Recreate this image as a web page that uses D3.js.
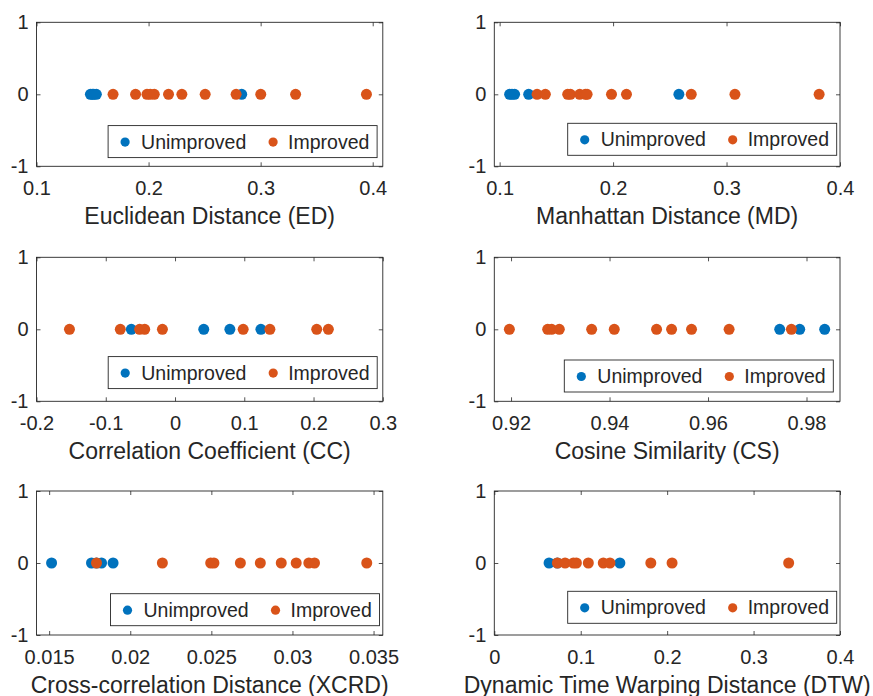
<!DOCTYPE html>
<html>
<head>
<meta charset="utf-8">
<script src="https://cdn.jsdelivr.net/npm/d3@7"></script>
<style>
  body { margin: 0; background: #fff; }
  svg { display: block; }
  text { font-family: "Liberation Sans", Arial, Helvetica, sans-serif; fill: #262626; }
</style>
</head>
<body>
<svg id="chart" width="873" height="696"></svg>
<script>
// ---- data -------------------------------------------------------------
const seriesNames = ["Unimproved", "Improved"];

const axisTitles = [
  "Euclidean Distance (ED)",
  "Manhattan Distance (MD)",
  "Correlation Coefficient (CC)",
  "Cosine Similarity (CS)",
  "Cross-correlation Distance (XCRD)",
  "Dynamic Time Warping Distance (DTW)"
];

const xLimits = [
  [0.1, 0.409],
  [0.0953, 0.4],
  [-0.2, 0.3],
  [0.9166, 0.9868],
  [0.01422, 0.03557],
  [0, 0.4]
];

const xTickValues = [
  [0.1, 0.2, 0.3, 0.4],
  [0.1, 0.2, 0.3, 0.4],
  [-0.2, -0.1, 0, 0.1, 0.2, 0.3],
  [0.92, 0.94, 0.96, 0.98],
  [0.015, 0.02, 0.025, 0.03, 0.035],
  [0, 0.1, 0.2, 0.3, 0.4]
];
const xTickLabels = [
  ["0.1", "0.2", "0.3", "0.4"],
  ["0.1", "0.2", "0.3", "0.4"],
  ["-0.2", "-0.1", "0", "0.1", "0.2", "0.3"],
  ["0.92", "0.94", "0.96", "0.98"],
  ["0.015", "0.02", "0.025", "0.03", "0.035"],
  ["0", "0.1", "0.2", "0.3", "0.4"]
];

const yTickValues = [-1, 0, 1];
const yTickLabels = ["-1", "0", "1"];

const unimprovedED = [0.1481, 0.1498, 0.1511, 0.1534, 0.2831];
const improvedED   = [0.1683, 0.1884, 0.1986, 0.2015, 0.2051, 0.2178, 0.2297, 0.2505, 0.2781, 0.3001, 0.3312, 0.3944];

const unimprovedMD = [0.1088, 0.1109, 0.1132, 0.1256, 0.2580];
const improvedMD   = [0.1330, 0.1403, 0.1600, 0.1624, 0.1706, 0.1756, 0.1771, 0.1986, 0.2118, 0.2689, 0.3074, 0.3816];

const unimprovedCC = [-0.0631, 0.0415, 0.0792, 0.1240];
const improvedCC   = [-0.1524, -0.0790, -0.0511, -0.0438, -0.0182, 0.0984, 0.1370, 0.2046, 0.2214];

const unimprovedCS = [0.97456, 0.97862, 0.98369];
const improvedCS   = [0.91966, 0.92744, 0.92825, 0.92980, 0.93637, 0.94096, 0.94955, 0.95260, 0.95665, 0.96428, 0.97693];

const unimprovedXCRD = [0.01515, 0.01761, 0.01792, 0.01823, 0.01894];
const improvedXCRD   = [0.01792, 0.02198, 0.02496, 0.02516, 0.02679, 0.02802, 0.02931, 0.03023, 0.03101, 0.03136, 0.03458];

const unimprovedDTW = [0.0634, 0.0730, 0.1453];
const improvedDTW   = [0.0730, 0.0819, 0.0915, 0.0950, 0.1088, 0.1261, 0.1338, 0.1811, 0.2057, 0.3406];

const unimprovedSets = [unimprovedED, unimprovedMD, unimprovedCC, unimprovedCS, unimprovedXCRD, unimprovedDTW];
const improvedSets   = [improvedED, improvedMD, improvedCC, improvedCS, improvedXCRD, improvedDTW];

// ---- layout -----------------------------------------------------------
const colors = ["#0072BD", "#D95319"];
const colX = [36.5, 494.3];
const colW = [346.3, 345.7];
const rowY = [22.3, 257.3, 491];
const panelH = 144;
const tickLen = 4;
// legend inset from the panel's right / bottom edge
const legendInset = [[5.7, 8.7], [3.3, 11], [5.6, 12.7], [6.7, 9.3], [3.3, 9.3], [3.3, 11.7]];
const legendW = 269, legendH = 32;

const svg = d3.select("#chart");
const axisColor = "#262626";

axisTitles.forEach((title, i) => {
  const col = i % 2, row = Math.floor(i / 2);
  const w = colW[col], h = panelH;
  const g = svg.append("g").attr("transform", `translate(${colX[col]},${rowY[row]})`);

  const x = d3.scaleLinear().domain(xLimits[i]).range([0, w]);
  const y = d3.scaleLinear().domain([-1, 1]).range([h, 0]);

  // axes: ticks point inward, mirrored on top and right
  const labelsX = xTickLabels[i];
  const bottom = g.append("g").attr("transform", `translate(0,${h})`)
    .call(d3.axisBottom(x).tickValues(xTickValues[i])
      .tickFormat((d, k) => labelsX[k]).tickSizeInner(-tickLen).tickSizeOuter(0).tickPadding(14.3));
  const top = g.append("g")
    .call(d3.axisTop(x).tickValues(xTickValues[i]).tickFormat("").tickSizeInner(-tickLen).tickSizeOuter(0));
  const left = g.append("g")
    .call(d3.axisLeft(y).tickValues(yTickValues)
      .tickFormat((d, k) => yTickLabels[k]).tickSizeInner(-tickLen).tickSizeOuter(0).tickPadding(8));
  const right = g.append("g").attr("transform", `translate(${w},0)`)
    .call(d3.axisRight(y).tickValues(yTickValues).tickFormat("").tickSizeInner(-tickLen).tickSizeOuter(0));

  [bottom, top, left, right].forEach(a => {
    a.select(".domain").remove();
    a.selectAll(".tick line").attr("stroke", axisColor).attr("stroke-width", 0.8);
    a.selectAll(".tick text").attr("font-size", 20).attr("fill", axisColor)
      .style("font-family", '"Liberation Sans", Arial, sans-serif');
  });

  g.append("rect").attr("x", 0).attr("y", 0).attr("width", w).attr("height", h)
    .attr("fill", "none").attr("stroke", axisColor).attr("stroke-width", 0.9);

  // points on the zero line
  [unimprovedSets[i], improvedSets[i]].forEach((vals, s) => {
    g.append("g").selectAll("circle").data(vals).join("circle")
      .attr("cx", d => x(d)).attr("cy", y(0)).attr("r", 5.5)
      .attr("fill", colors[s]);
  });

  // axis title
  g.append("text").attr("x", w / 2).attr("y", h + 57.5)
    .attr("text-anchor", "middle").attr("font-size", 23).text(title);

  // legend
  const lx = w - legendInset[i][0] - legendW;
  const ly = h - legendInset[i][1] - legendH;
  const lg = g.append("g").attr("transform", `translate(${lx},${ly})`);
  lg.append("rect").attr("width", legendW).attr("height", legendH)
    .attr("fill", "#fff").attr("stroke", axisColor).attr("stroke-width", 0.9);
  const entryX = [[17, 33], [165, 180]];
  seriesNames.forEach((name, s) => {
    lg.append("circle").attr("cx", entryX[s][0]).attr("cy", legendH / 2 + 0.5).attr("r", 4.6).attr("fill", colors[s]);
    lg.append("text").attr("x", entryX[s][1]).attr("y", legendH / 2 + 7)
      .attr("font-size", 19.5).text(name);
  });
});
</script>
</body>
</html>
